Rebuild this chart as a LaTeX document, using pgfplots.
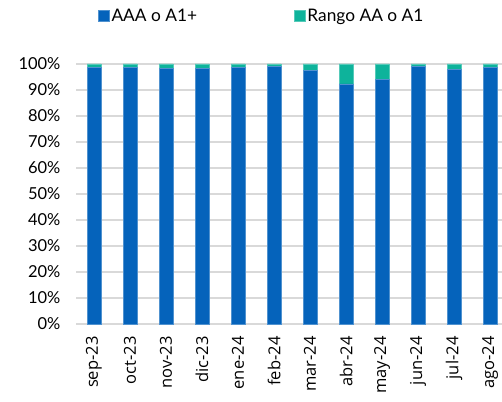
\documentclass[border=0pt]{standalone}
\usepackage{fontspec}
\setmainfont{Lato}
\newfontfamily\xfont{Open Sans}
\usepackage{pgfplots}
\pgfplotsset{compat=1.18}
\definecolor{cblue}{HTML}{0563BB}
\definecolor{cgreen}{HTML}{0EB39B}
\definecolor{cgrid}{HTML}{D9D9D9}
\begin{document}
\begin{tikzpicture}[x=1pt,y=1pt]
\begin{axis}[
  at={(76pt,77pt)}, anchor=south west,
  scale only axis, width=426pt, height=260pt,
  ybar stacked, bar width=14pt,
  xmin=-0.5, xmax=11.33, ymin=0, ymax=100,
  xtick={0,...,11},
  xticklabels={sep-23,oct-23,nov-23,dic-23,ene-24,feb-24,mar-24,abr-24,may-24,jun-24,jul-24,ago-24},
  x tick label style={yshift=-9pt, rotate=90, anchor=east, font=\xfont\fontsize{16.5}{17}\selectfont},
  ytick={0,10,...,100},
  yticklabel={\pgfmathprintnumber{\tick}\%},
  /pgf/number format/assume math mode=true,
  y tick label style={xshift=-12pt, font=\fontsize{16.5}{17}\selectfont},
  major tick length=0pt,
  axis line style={draw=none},
  axis x line*=bottom,
  ymajorgrids, grid style={cgrid, line width=1.3pt},
  legend style={draw=none, at={(axis description cs:0.436,1)}, anchor=center, yshift=48pt,
     legend columns=2, font=\fontsize{17.3}{18}\selectfont, inner sep=0pt,
     /tikz/every even column/.append style={column sep=95pt}},
  legend image code/.code={\fill[#1] (0pt,-5.5pt) rectangle (11pt,5.5pt);},
  clip=false,
]
\addplot[fill=cblue, draw=cblue!70!white, line width=0.4pt] coordinates {
(0,98.7) (1,98.7) (2,98.3) (3,98.3) (4,98.7) (5,99.1) (6,97.6) (7,92.4) (8,94.1) (9,99.1) (10,98.0) (11,98.7)};
\addplot[fill=cgreen, draw=cgreen!70!white, line width=0.4pt] coordinates {
(0,1.3) (1,1.3) (2,1.7) (3,1.7) (4,1.3) (5,0.9) (6,2.4) (7,7.6) (8,5.9) (9,0.9) (10,2.0) (11,1.3)};
\legend{AAA o A1+, Rango AA o A1}
\end{axis}
\pgfresetboundingbox
\path (0,0) rectangle (502,401);
\end{tikzpicture}
\end{document}
